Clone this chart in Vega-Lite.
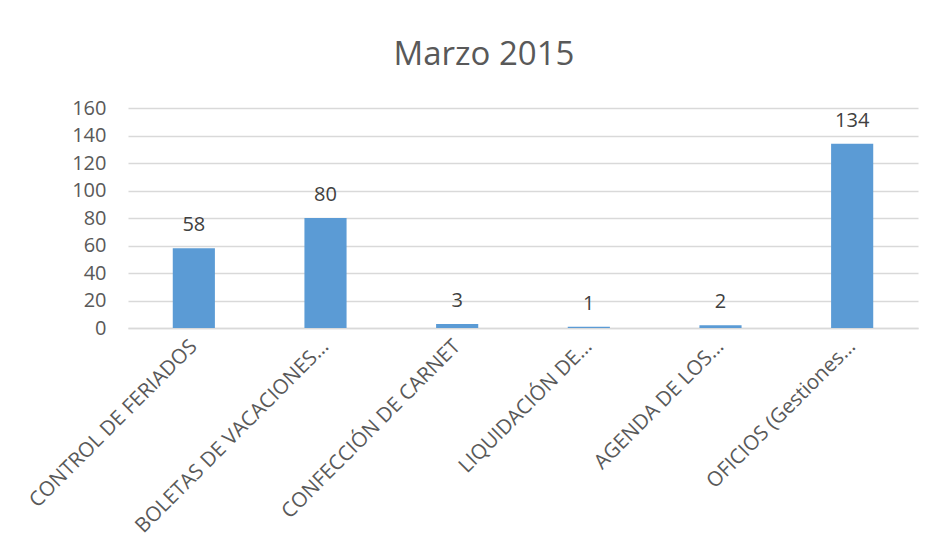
{
  "$schema": "https://vega.github.io/schema/vega-lite/v6.json",
  "width": 790,
  "height": 220,
  "autosize": {"type": "none"},
  "padding": {"left": 128, "top": 108, "right": 17, "bottom": 228},
  "background": "white",
  "title": {
    "text": "Marzo 2015",
    "font": "Open Sans",
    "fontSize": 33,
    "fontWeight": "normal",
    "color": "#595959",
    "anchor": "middle",
    "dx": -39,
    "offset": 26
  },
  "data": {
    "values": [
      {"cat": "CONTROL DE FERIADOS", "val": 58},
      {"cat": "BOLETAS DE VACACIONES…", "val": 80},
      {"cat": "CONFECCIÓN DE CARNET", "val": 3},
      {"cat": "LIQUIDACIÓN DE…", "val": 1},
      {"cat": "AGENDA DE LOS…", "val": 2},
      {"cat": "OFICIOS (Gestiones…", "val": 134}
    ]
  },
  "encoding": {
    "x": {
      "field": "cat",
      "type": "nominal",
      "sort": null,
      "scale": {"paddingInner": 0.68, "paddingOuter": 0.34},
      "axis": {
        "title": null,
        "labelAngle": -45,
        "labelAlign": "right",
        "labelBaseline": "middle",
        "labelFont": "Open Sans",
        "labelFontSize": 20.5,
        "labelColor": "#595959",
        "labelPadding": 15,
        "labelLimit": 400,
        "ticks": false,
        "domainColor": "#d9d9d9",
        "domainWidth": 1.5
      }
    },
    "y": {
      "field": "val",
      "type": "quantitative",
      "scale": {"domain": [0, 160], "nice": false},
      "axis": {
        "title": null,
        "values": [0, 20, 40, 60, 80, 100, 120, 140, 160],
        "labelFont": "Open Sans",
        "labelFontSize": 20,
        "labelColor": "#595959",
        "labelPadding": 22,
        "ticks": false,
        "domain": false,
        "grid": true,
        "gridColor": "#d9d9d9",
        "gridWidth": 1.5
      }
    }
  },
  "layer": [
    {"mark": {"type": "bar", "color": "#5B9BD5"}},
    {
      "mark": {
        "type": "text",
        "baseline": "bottom",
        "dy": -13,
        "font": "Open Sans",
        "fontSize": 20,
        "color": "#404040"
      },
      "encoding": {"text": {"field": "val", "type": "quantitative"}}
    }
  ],
  "config": {"view": {"stroke": null}}
}
